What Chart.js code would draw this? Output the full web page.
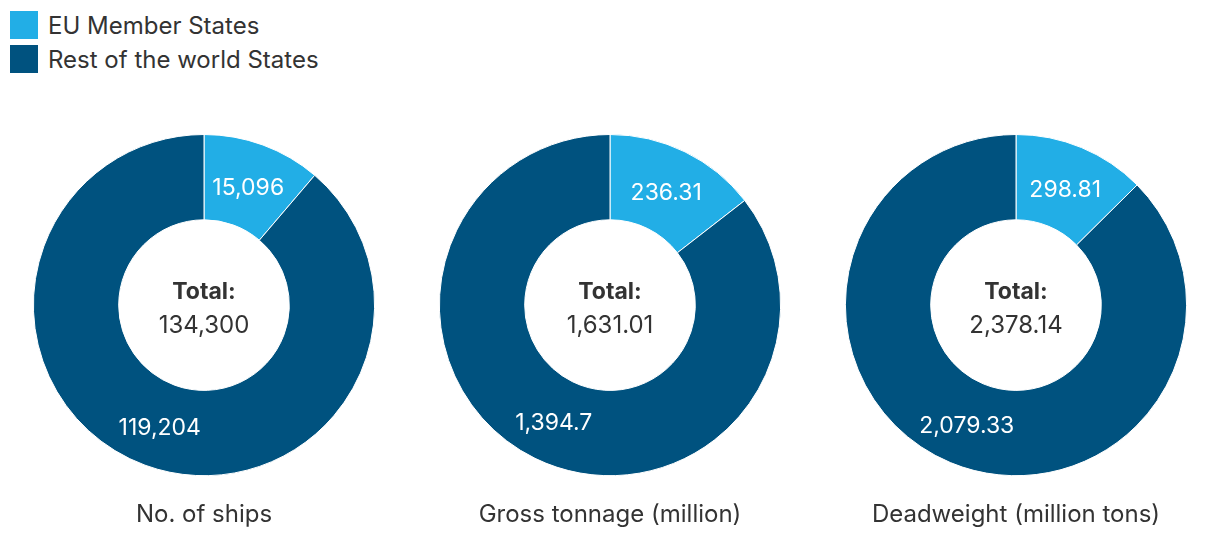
<!DOCTYPE html>
<html>
<head>
<meta charset="utf-8">
<script src="https://cdn.jsdelivr.net/npm/chart.js@4/dist/chart.umd.min.js"></script>
<style>
  body { margin: 0; background: #fff; font-family: Inter, sans-serif; }
  #wrap { position: relative; width: 1220px; height: 558px; }
  .legend { position: absolute; left: 10px; color: #333; font-size: 24px; line-height: 28px; display: flex; align-items: center; }
  .legend span.box { width: 28px; height: 28px; margin-right: 10px; display: inline-block; }
  .legend span.txt { position: relative; top: 1px; }
  .chartbox { position: absolute; top: 124px; width: 406px; height: 422px; }
</style>
</head>
<body>
<div id="wrap">
  <div class="legend" style="top:11px"><span class="box" style="background:#22aee6"></span><span class="txt" id="lg0"></span></div>
  <div class="legend" style="top:45px"><span class="box" style="background:#00527f"></span><span class="txt" id="lg1"></span></div>
  <div class="chartbox" style="left:1px"><canvas id="c0"></canvas></div>
  <div class="chartbox" style="left:407px"><canvas id="c1"></canvas></div>
  <div class="chartbox" style="left:813px"><canvas id="c2"></canvas></div>
</div>
<script>
// --- Data ---
const seriesNames = ['EU Member States', 'Rest of the world States'];
const chartTitles = ['No. of ships', 'Gross tonnage (million)', 'Deadweight (million tons)'];
const euValues = [15096, 236.31, 298.81];
const restValues = [119204, 1394.7, 2079.33];
const totals = [134300, 1631.01, 2378.14];
const decimals = [0, 2, 2];

const colors = ['#22aee6', '#00527f'];

document.getElementById('lg0').textContent = seriesNames[0];
document.getElementById('lg1').textContent = seriesNames[1];

function fmt(v, d) {
    // keep trailing decimals as shown in the original (e.g. 1,394.7)
    return v.toLocaleString('en-US', { maximumFractionDigits: d });
}

// draws value labels inside each slice and the total in the hole
const donutText = {
    id: 'donutText',
    afterDatasetsDraw(chart, args, opts) {
        const ctx = chart.ctx;
        const meta = chart.getDatasetMeta(0);
        const ds = chart.data.datasets[0];
        ctx.save();
        ctx.textAlign = 'center';
        ctx.textBaseline = 'middle';
        ctx.fillStyle = '#fff';
        ctx.font = '400 23px Inter, sans-serif';
        meta.data.forEach((arc, i) => {
            const p = arc.tooltipPosition();
            ctx.fillText(fmt(ds.data[i], opts.decimals), p.x, p.y + 3);
        });
        const cx = meta.data[0].x, cy = meta.data[0].y;
        ctx.fillStyle = '#333';
        ctx.font = '700 23px Inter, sans-serif';
        ctx.fillText('Total:', cx, cy - 13);
        ctx.font = '400 24px Inter, sans-serif';
        ctx.fillText(fmt(opts.total, opts.decimals), cx, cy + 21);
        ctx.restore();
    }
};

for (let i = 0; i < 3; i++) {
    new Chart(document.getElementById('c' + i), {
        type: 'doughnut',
        data: {
            labels: seriesNames,
            datasets: [{
                data: [euValues[i], restValues[i]],
                backgroundColor: colors,
                borderColor: '#fff',
                borderWidth: 1
            }]
        },
        options: {
            responsive: true,
            maintainAspectRatio: false,
            animation: false,
            cutout: '50%',
            layout: { padding: { top: 10 } },
            plugins: {
                legend: { display: false },
                tooltip: { enabled: false },
                title: {
                    display: true,
                    position: 'bottom',
                    text: chartTitles[i],
                    color: '#333',
                    font: { family: 'Inter, sans-serif', size: 24, weight: '400' },
                    padding: { top: 24, bottom: 17 }
                },
                donutText: { total: totals[i], decimals: decimals[i] }
            }
        },
        plugins: [donutText]
    });
}
</script>
</body>
</html>
